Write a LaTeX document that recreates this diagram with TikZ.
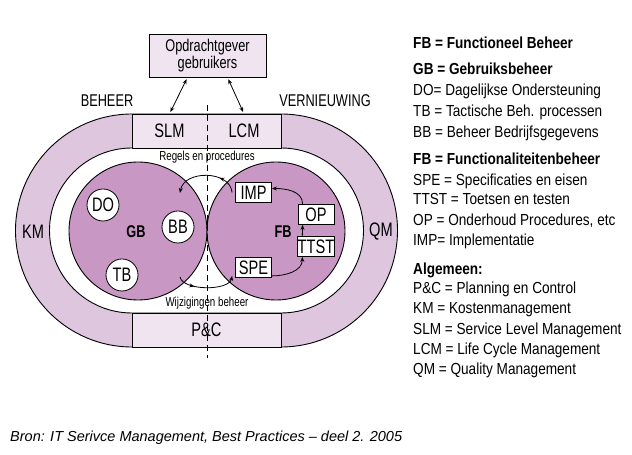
\documentclass[tikz,border=0pt]{standalone}
\usepackage{fontspec}
\setmainfont{Liberation Sans}
\newfontfamily\legendfont[FakeStretch=0.85]{Liberation Sans}
\newfontfamily\diagfont[FakeStretch=0.75]{Liberation Sans}
\usetikzlibrary{arrows.meta,decorations.markings}
\definecolor{ringpink}{HTML}{DEC6DE}
\definecolor{boxpink}{HTML}{F0E4F0}
\definecolor{discpink}{HTML}{C897C4}

\begin{document}
\begin{tikzpicture}[x=1pt,y=1pt,
  every node/.style={inner sep=0pt},
  lab/.style={font=\diagfont\fontsize{19.5}{20}\selectfont},
  midlab/.style={font=\diagfont\fontsize{17}{15}\selectfont},
  smalllab/.style={anchor=base,font=\diagfont\fontsize{13}{14}\selectfont},
  boldlab/.style={font=\diagfont\bfseries\fontsize{17}{18}\selectfont},
  legend/.style={anchor=base west,font=\legendfont\fontsize{16}{18}\selectfont},
  legendhead/.style={anchor=base west,font=\legendfont\bfseries\fontsize{16}{18}\selectfont},
  outline/.style={draw=black,line width=0.9pt},
  bandbox/.style={fill=boxpink,minimum height=34pt,lab},
  subcirc/.style={circle,draw,fill=white,minimum size=32pt,line width=0.8pt,lab},
  subbox/.style={rectangle,draw,fill=white,minimum width=36pt,minimum height=20pt,
    line width=0.8pt,lab},
  flow/.style={line width=0.8pt,-{Stealth[length=5pt,width=4pt]}},
  twoway/.style={line width=0.8pt,{Stealth[length=5pt,width=4pt]}-{Stealth[length=5pt,width=4pt]}},
  dashline/.style={black,line width=0.8pt,dash pattern=on 6pt off 4pt}]
  \useasboundingbox (0,0) rectangle (632,455);
  \def\R{116.5}
  \def\r{82.5}

  % ring: outer stadium minus inner stadium
  \fill[ringpink] (132,341) -- (281,341) arc[start angle=90,end angle=-90,radius=\R]
    -- (132,108) arc[start angle=270,end angle=90,radius=\R] -- cycle;
  \draw[outline] (132,341) -- (281,341) arc[start angle=90,end angle=-90,radius=\R]
    -- (132,108) arc[start angle=270,end angle=90,radius=\R] -- cycle;
  \draw[outline,fill=white] (132,307) -- (281,307) arc[start angle=90,end angle=-90,radius=\r]
    -- (132,142) arc[start angle=270,end angle=90,radius=\r] -- cycle;

  % the two domains
  \draw[outline,fill=discpink] (138,224) circle[radius=69];
  \draw[outline,fill=discpink] (276,224) circle[radius=69];
  \node[boldlab] (gb) at (136,223) {GB};
  \node[boldlab] (fb) at (283,223) {FB};

  % bands at top and bottom
  \node[bandbox,minimum width=75pt] (slm) at (169.5,324) {SLM};
  \node[bandbox,minimum width=74pt] (lcm) at (244,324) {LCM};
  \draw[outline] (132,307) rectangle (281,341);
  \node[bandbox,outline,minimum width=149pt] (pc) at (206.5,125) {P\&C};
  \node[lab] (km) at (33,223) {KM};
  \node[lab] (qm) at (381,223) {QM};
  \node[midlab] (beheer) at (107,354) {BEHEER};
  \node[midlab] (vern) at (325,354) {VERNIEUWING};

  \node[outline,fill=boxpink,minimum width=117pt,minimum height=43pt,
    align=center,midlab] (opd) at (207.5,399.5) {Opdrachtgever\\gebruikers};
  \draw[twoway,shorten >=2pt,shorten <=2pt] ([xshift=-20pt]opd.south) -- (slm.north);
  \draw[twoway,shorten >=2pt,shorten <=2pt] ([xshift=20pt]opd.south) -- (lcm.north);

  % GB parts
  \foreach \px/\py/\nm in {103/250/DO,178/228/BB,122/180/TB}
    \node[subcirc] (\nm) at (\px,\py) {\nm};

  % FB parts and their cycle
  \node[subbox] (imp) at (253.5,262.5) {IMP};
  \node[subbox] (op) at (316,240.5) {OP};
  \node[subbox] (ttst) at (316,208.5) {TTST};
  \node[subbox] (spe) at (253.5,187.5) {SPE};
  \draw[flow] ([yshift=2pt]spe.south east) to[out=0,in=-90] ([xshift=5pt]ttst.south west);
  \draw[flow] ([xshift=5pt]ttst.north west) -- ([xshift=5pt]op.south west);
  \draw[flow] ([xshift=5pt]op.north west) to[out=90,in=0] ([yshift=4pt]imp.east);

  % exchange between the domains
  \coordinate (gbtop) at (180,262);
  \coordinate (gbbot) at (180,178);
  \draw[flow,postaction={decorate},decoration={markings,
    mark=at position 0.3 with {\arrow{Stealth[length=5pt,width=4pt]}}}]
    ([xshift=-3pt]imp.west) .. controls (230,285) and (184,285) .. (gbtop);
  \draw[flow,postaction={decorate},decoration={markings,
    mark=at position 0.3 with {\arrow{Stealth[length=5pt,width=4pt]}}}]
    (gbbot) .. controls (183,164) and (229,164) .. ([xshift=-3pt,yshift=2pt]spe.south west);
  \node[smalllab] (regels) at (207,294) {Regels en procedures};
  \node[smalllab] (wijz) at (207,148) {Wijzigingen beheer};

  \draw[dashline] (207,350) -- (207,97);

  % legend
  \node[legendhead] at (413,406) {FB = Functioneel Beheer};
  \node[legendhead] at (413,380) {GB = Gebruiksbeheer};
  \node[legendhead] at (413,290) {FB = Functionaliteitenbeheer};
  \node[legendhead] at (413,180) {Algemeen:};
  \foreach \yy/\txt in {359/{DO= Dagelijkse Ondersteuning},
    338/{TB = Tactische Beh. processen},317/{BB = Beheer Bedrijfsgegevens},
    269/{SPE = Specificaties en eisen},250/{TTST = Toetsen en testen},
    229/{OP = Onderhoud Procedures, etc},209/{IMP= Implementatie},
    161/{P\&C = Planning en Control},141/{KM = Kostenmanagement},
    120/{SLM = Service Level Management},100/{LCM = Life Cycle Management},
    80/{QM = Quality Management}}
    \node[legend] at (413,\yy) {\txt};

  \node[anchor=base west,font=\itshape\fontsize{14.5}{16}\selectfont] (bron) at (10,13)
    {Bron: IT Serivce Management, Best Practices – deel 2. 2005};
\end{tikzpicture}
\end{document}
